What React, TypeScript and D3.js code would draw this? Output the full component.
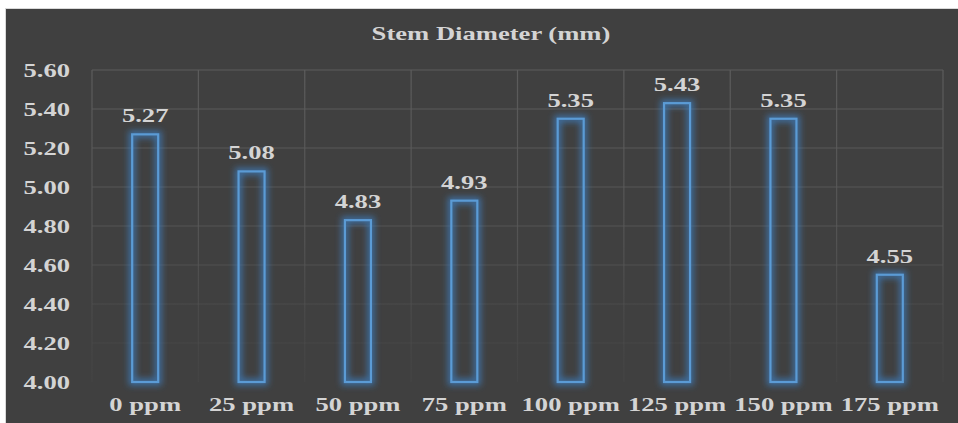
import React from "react";
import * as d3 from "d3";

const categories = ["0 ppm", "25 ppm", "50 ppm", "75 ppm", "100 ppm", "125 ppm", "150 ppm", "175 ppm"];
const values = [5.27, 5.08, 4.83, 4.93, 5.35, 5.43, 5.35, 4.55];
const yTicks = [4.0, 4.2, 4.4, 4.6, 4.8, 5.0, 5.2, 5.4, 5.6];
const title = "Stem Diameter (mm)";

const W = 958;
const H = 423;
const plot = { left: 92, right: 943, top: 70, bottom: 382 };
const FONT = "'Liberation Serif', 'Times New Roman', serif";
const TEXT = "#d4d4d4";
const SX = 1.4;

export default function App() {
  const x = d3.scaleBand<string>().domain(categories).range([plot.left, plot.right]).paddingInner(0).paddingOuter(0);
  const y = d3.scaleLinear().domain([4.0, 5.6]).range([plot.bottom, plot.top]);
  const barW = 26;

  const stretchText = (tx: number, ty: number, s: string, anchor: string, size = 19, key?: any) => (
    <text
      key={key}
      transform={`translate(${tx},${ty}) scale(${SX},1)`}
      textAnchor={anchor}
      fontFamily={FONT}
      fontWeight="bold"
      fontSize={size}
      fill={TEXT}
    >
      {s}
    </text>
  );

  const bounds = categories.map((c) => x(c)!).concat([plot.right]);

  return (
    <svg width={W} height={H} style={{ position: "absolute", left: 0, top: 0 }}>
      <defs>
        <linearGradient id="gridFade" gradientUnits="userSpaceOnUse" x1="0" y1={plot.top} x2="0" y2={plot.bottom}>
          <stop offset="0" stopColor="#5c5c5c" stopOpacity={1} />
          <stop offset="0.55" stopColor="#585858" stopOpacity={0.8} />
          <stop offset="1" stopColor="#4a4a4a" stopOpacity={0.35} />
        </linearGradient>
        <filter id="glow" x="-60%" y="-20%" width="220%" height="140%">
          <feGaussianBlur in="SourceGraphic" stdDeviation="3" />
        </filter>
      </defs>
      <rect x={0} y={0} width={W} height={H} fill="#ffffff" />
      <rect x={5} y={8} width={W - 5} height={H - 8} fill="#d9d9d9" />
      <rect x={6} y={9} width={W - 6} height={H - 9} fill="#404040" />

      {/* title */}
      {stretchText(W / 2 + 12, 40, title, "middle", 19)}

      {/* gridlines */}
      {yTicks.slice(1).map((t) => (
        <line key={"h" + t} x1={plot.left} x2={plot.right} y1={y(t)} y2={y(t)} stroke="url(#gridFade)" strokeWidth={1.2} />
      ))}
      {bounds.map((b, i) => (
        <line key={"v" + i} x1={b} x2={b} y1={plot.top} y2={plot.bottom} stroke="url(#gridFade)" strokeWidth={1.2} />
      ))}

      {/* y tick labels */}
      {yTicks.map((t) => stretchText(70, y(t) + 6.5, t.toFixed(2), "end", 19, "yl" + t))}

      {/* bars */}
      {categories.map((c, i) => {
        const cx = x(c)! + x.bandwidth() / 2;
        const top = y(values[i]);
        const h = y(4.0) - top;
        return (
          <g key={"b" + c}>
            <rect
              x={cx - barW / 2}
              y={top}
              width={barW}
              height={h}
              fill="none"
              stroke="#3f7fc0"
              strokeWidth={7}
              strokeOpacity={0.75}
              filter="url(#glow)"
            />
            <rect x={cx - barW / 2} y={top} width={barW} height={h} fill="none" stroke="#5b9bd5" strokeWidth={2.2} />
          </g>
        );
      })}

      {/* data labels */}
      {categories.map((c, i) => {
        const cx = x(c)! + x.bandwidth() / 2;
        return stretchText(cx, y(values[i]) - 12, values[i].toFixed(2), "middle", 19, "dl" + c);
      })}

      {/* x labels */}
      {categories.map((c) => stretchText(x(c)! + x.bandwidth() / 2, 411, c, "middle", 19, "xl" + c))}
    </svg>
  );
}
